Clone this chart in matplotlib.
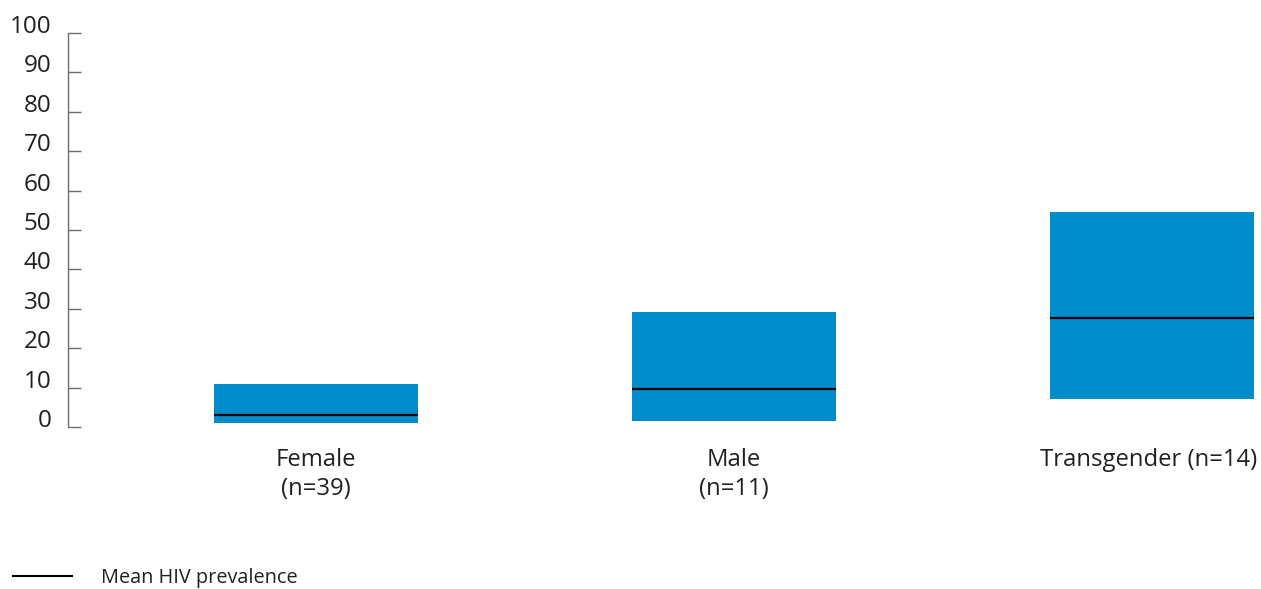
import matplotlib
matplotlib.use("Agg")
import matplotlib.pyplot as plt
import matplotlib.transforms as mtransforms
from matplotlib.lines import Line2D

categories = ["Female\n(n=39)", "Male\n(n=11)", "Transgender (n=14)"]
low = [1.0, 1.6, 7.1]
high = [10.9, 29.2, 54.6]
mean = [3.0, 9.6, 27.7]
yticks = list(range(0, 101, 10))

BLUE = "#008bcb"
TEXT = "#231f20"

plt.rcParams["font.family"] = ["Open Sans", "DejaVu Sans"]

fig = plt.figure(figsize=(12.61, 5.89), dpi=100)
ax = fig.add_axes([68 / 1261, 1 - 427 / 589, 1 - 68 / 1261, (427 - 33) / 589])

x = list(range(len(categories)))
width = 0.488
heights = [h - l for h, l in zip(high, low)]
ax.bar(x, heights, bottom=low, width=width, color=BLUE, linewidth=0, zorder=2)
ax.hlines(mean, [i - width / 2 for i in x], [i + width / 2 for i in x],
          colors="black", linewidth=1.6, zorder=3)

ax.set_xlim(-0.593, 2.261)
ax.set_ylim(0, 100)
ax.set_yticks(yticks)
ax.set_xticks(x)
ax.set_xticklabels(categories, fontsize=17.2, color=TEXT, linespacing=1.3)
ax.tick_params(axis="x", length=0, pad=15)
ax.tick_params(axis="y", direction="in", length=9, width=1, color="#6d6e71",
               labelsize=17.5, labelcolor=TEXT, pad=12)

offset = mtransforms.ScaledTranslation(0, 0.09, fig.dpi_scale_trans)
for lab in ax.get_yticklabels():
    lab.set_transform(lab.get_transform() + offset)

# last label sits a touch left of its bar so it stays inside the figure
xlabs = ax.get_xticklabels()
xlabs[-1].set_transform(xlabs[-1].get_transform()
                        + mtransforms.ScaledTranslation(-0.03, 0, fig.dpi_scale_trans))

for side in ["top", "right", "bottom"]:
    ax.spines[side].set_visible(False)
ax.spines["left"].set_color("#6d6e71")
ax.spines["left"].set_linewidth(1)

handle = Line2D([], [], color="black", linewidth=1.5)
fig.legend([handle], ["Mean HIV prevalence"], loc="center left",
           bbox_to_anchor=(0.0, 1 - 578 / 589), frameon=False,
           fontsize=14.3, handlelength=2.97, handletextpad=1.46,
           borderaxespad=0, borderpad=0.65, labelcolor=TEXT)

fig.savefig("out.png", dpi=100)
